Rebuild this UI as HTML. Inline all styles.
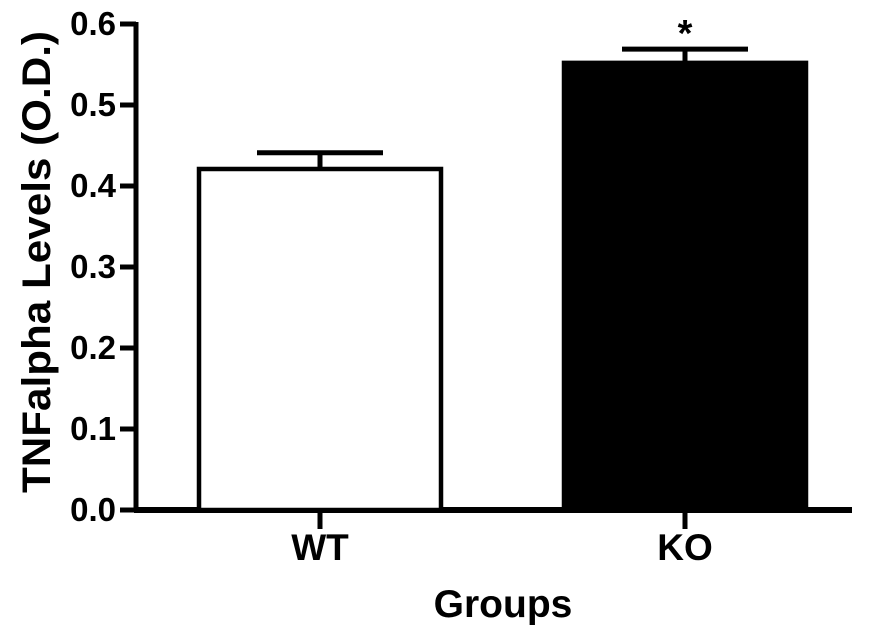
<!DOCTYPE html>
<html><head><meta charset="utf-8"><style>
html,body{margin:0;padding:0;background:#fff;}
svg{display:block;font-family:"Liberation Sans",Arial,sans-serif;font-weight:bold;}
</style></head><body>
<svg id="chart" width="879" height="636" viewBox="0 0 879 636">
<g id="axes"></g><g id="bars"></g>
<text x="50" y="262" font-size="40" text-anchor="middle" textLength="462" lengthAdjust="spacingAndGlyphs" transform="rotate(-90 50 262)">TNFalpha Levels (O.D.)</text>
<text x="503" y="617" font-size="39" text-anchor="middle">Groups</text>
</svg>
<script>
const categories = ["WT","KO"];
const values = [0.421, 0.552];
const errors = [0.020, 0.017];
const fills = ["#fff","#000"];
const yTicks = [0,0.1,0.2,0.3,0.4,0.5,0.6];
const yTickLabels = ["0.0","0.1","0.2","0.3","0.4","0.5","0.6"];
const significance = ["", "*"];

const NS="http://www.w3.org/2000/svg";
const y0=510, pxPer=810, axisX=136;
const centers=[320,685], barW=242;
function yS(v){return y0-v*pxPer;}
function mk(tag,attrs,parent){const e=document.createElementNS(NS,tag);for(const k in attrs)e.setAttribute(k,attrs[k]);parent.appendChild(e);return e;}
const axes=document.getElementById('axes'), bars=document.getElementById('bars');

const ya=mk('line',{x1:axisX,y1:yS(0.6)-2,x2:axisX,y2:y0+2,stroke:'#000','stroke-width':5},axes);


const xa=mk('line',{x1:axisX-2,y1:y0,x2:852,y2:y0,stroke:'#000','stroke-width':6},axes);


yTicks.forEach((t,i)=>{
  const tk=mk('line',{x1:axisX-16,y1:yS(t),x2:axisX,y2:yS(t),stroke:'#000','stroke-width':5},axes);
  
  
  const lb=mk('text',{x:116,y:yS(t)+11,'font-size':33,'text-anchor':'end'},axes);
  lb.textContent=yTickLabels[i];
  
  
});
categories.forEach((c,i)=>{
  const cx=centers[i], top=yS(values[i]), etop=yS(values[i]+errors[i]);
  const tk=mk('line',{x1:cx,y1:y0,x2:cx,y2:529,stroke:'#000','stroke-width':5},axes);
  
  
  const lb=mk('text',{x:cx,y:560,'font-size':37,'text-anchor':'middle'},axes);
  lb.textContent=c;
  
  
  const eb=mk('path',{d:`M${cx},${top} V${etop} M${cx-63},${etop} H${cx+63}`,stroke:'#000','stroke-width':5,fill:'none'},bars);
  
  
  const r=mk('rect',{x:cx-barW/2,y:top,width:barW,height:y0-top,fill:fills[i],stroke:'#000','stroke-width':4.5},bars);
  
  
  if(significance[i]){
    const s=mk('text',{x:cx,y:etop-3,'font-size':38,'text-anchor':'middle'},bars);
    s.textContent=significance[i];
    
    
  }
});
</script>
</body></html>
